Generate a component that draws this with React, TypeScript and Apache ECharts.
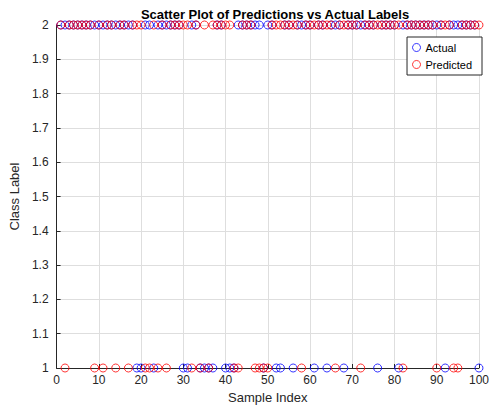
import React, { useEffect, useRef } from "react";
import * as echarts from "echarts";

const sampleIndex: number[] = [
  1, 2, 3, 4, 5, 6, 7, 8, 9, 10,
  11, 12, 13, 14, 15, 16, 17, 18, 19, 20,
  21, 22, 23, 24, 25, 26, 27, 28, 29, 30,
  31, 32, 33, 34, 35, 36, 37, 38, 39, 40,
  41, 42, 43, 44, 45, 46, 47, 48, 49, 50,
  51, 52, 53, 54, 55, 56, 57, 58, 59, 60,
  61, 62, 63, 64, 65, 66, 67, 68, 69, 70,
  71, 72, 73, 74, 75, 76, 77, 78, 79, 80,
  81, 82, 83, 84, 85, 86, 87, 88, 89, 90,
  91, 92, 93, 94, 95, 96, 97, 98, 99, 100,
];

const actualLabels: number[] = [
  2, 2, 2, 2, 2, 2, 2, 2, 2, 2,
  2, 2, 2, 2, 2, 2, 2, 2, 1, 1,
  2, 2, 1, 2, 2, 2, 2, 2, 2, 1,
  1, 2, 2, 1, 1, 1, 1, 2, 2, 1,
  1, 1, 2, 2, 2, 2, 2, 2, 1, 2,
  2, 1, 1, 2, 2, 1, 2, 2, 2, 2,
  1, 2, 2, 1, 2, 2, 2, 1, 2, 2,
  2, 2, 2, 2, 2, 1, 2, 2, 2, 2,
  1, 2, 2, 2, 2, 2, 2, 2, 2, 2,
  2, 1, 2, 2, 2, 2, 2, 2, 2, 1,
];

const predictedLabels: number[] = [
  2, 1, 2, 2, 2, 2, 2, 2, 1, 2,
  1, 2, 2, 1, 2, 2, 1, 2, 2, 2,
  1, 1, 2, 1, 2, 1, 2, 2, 2, 2,
  2, 1, 2, 1, 2, 1, 2, 2, 2, 2,
  2, 1, 1, 2, 2, 2, 1, 1, 1, 1,
  2, 2, 2, 2, 2, 2, 2, 1, 2, 2,
  2, 2, 2, 2, 2, 1, 2, 2, 2, 2,
  2, 1, 2, 2, 2, 2, 2, 2, 2, 2,
  2, 1, 2, 2, 2, 2, 2, 2, 2, 1,
  2, 2, 2, 1, 1, 2, 2, 2, 2, 2,
];

const seriesNames: string[] = ["Actual", "Predicted"];
const seriesColors: string[] = ["#0000ff", "#ff0000"];

const FONT = "'Liberation Sans', Arial, Helvetica, sans-serif";

export default function App() {
  const ref = useRef<HTMLDivElement>(null);

  useEffect(() => {
    if (!ref.current) return;
    const chart = echarts.init(ref.current, null, { renderer: "svg" });
    const seriesValues = [actualLabels, predictedLabels];
    chart.setOption({
      animation: false,
      backgroundColor: "#ffffff",
      textStyle: { fontFamily: FONT },
      title: {
        text: "Scatter Plot of Predictions vs Actual Labels",
        left: 270,
        top: 3,
        textAlign: "center",
        textStyle: { fontFamily: FONT, fontSize: 13, fontWeight: "bold", color: "#000000" },
      },
      legend: {
        orient: "vertical",
        right: 10,
        top: 37,
        data: seriesNames,
        itemWidth: 8,
        itemHeight: 8,
        itemGap: 6,
        padding: [5, 10, 5, 5],
        borderColor: "#262626",
        borderWidth: 1,
        backgroundColor: "#ffffff",
        itemStyle: { borderWidth: 1 },
        textStyle: { fontFamily: FONT, fontSize: 11, color: "#000000" },
      },
      grid: { left: 53, right: 5, top: 25, bottom: 42, containLabel: false },
      xAxis: {
        type: "value",
        min: 0,
        max: 100,
        interval: 10,
        name: "Sample Index",
        nameLocation: "middle",
        nameGap: 23,
        nameTextStyle: { fontFamily: FONT, fontSize: 13, color: "#262626" },
        axisLine: { show: true, onZero: false, lineStyle: { color: "#262626", width: 1 } },
        axisTick: { show: true, inside: true, length: 4, lineStyle: { color: "#262626" } },
        axisLabel: { fontFamily: FONT, fontSize: 12, color: "#262626", margin: 6 },
        splitLine: { show: true, lineStyle: { color: "#dedede", width: 1 } },
      },
      yAxis: {
        type: "value",
        min: 1,
        max: 2,
        interval: 0.1,
        name: "Class Label",
        nameLocation: "middle",
        nameGap: 30,
        nameTextStyle: { fontFamily: FONT, fontSize: 13, color: "#262626" },
        axisLine: { show: true, onZero: false, lineStyle: { color: "#262626", width: 1 } },
        axisTick: { show: true, inside: true, length: 4, lineStyle: { color: "#262626" } },
        axisLabel: {
          fontFamily: FONT,
          fontSize: 12,
          color: "#262626",
          margin: 8,
          formatter: (v: number) => String(Number(v.toFixed(1))),
        },
        splitLine: { show: true, lineStyle: { color: "#dedede", width: 1 } },
      },
      series: seriesNames.map((name, si) => ({
        name,
        type: "scatter",
        symbol: "circle",
        symbolSize: 8,
        clip: false,
        itemStyle: {
          color: "rgba(255,255,255,0)",
          borderColor: seriesColors[si],
          borderWidth: 1,
        },
        data: sampleIndex.map((x, i) => [x, seriesValues[si][i]]),
      })),
    });
    return () => chart.dispose();
  }, []);

  return (
    <div
      ref={ref}
      style={{ position: "fixed", left: 0, top: 0, width: 492, height: 410 }}
    />
  );
}
